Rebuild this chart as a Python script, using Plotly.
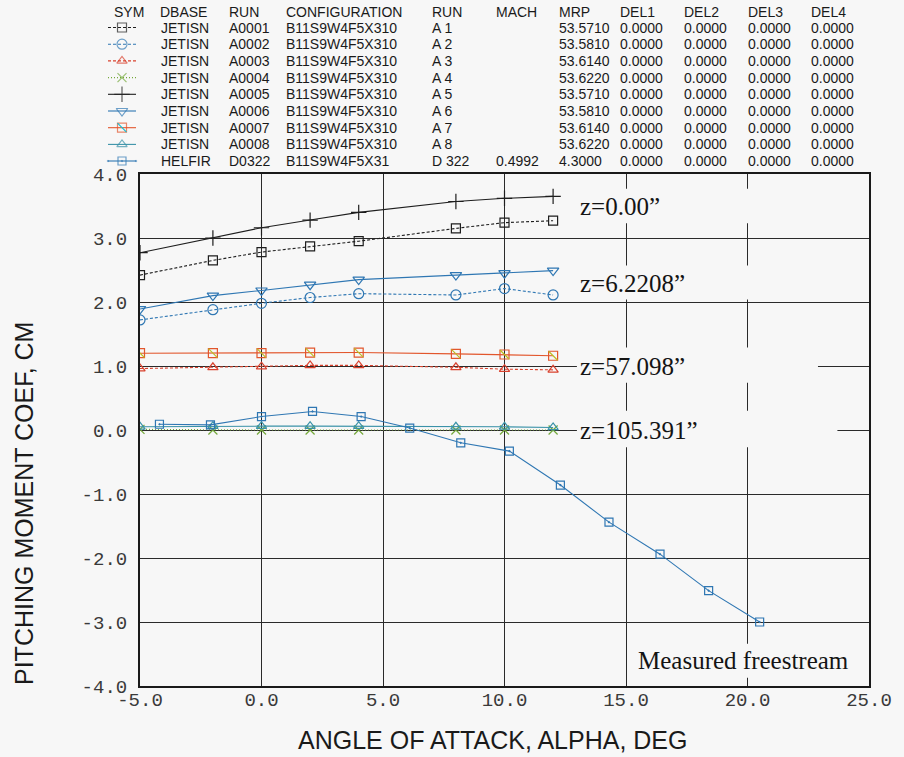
import plotly.graph_objects as go

# ---------------- data ----------------
alpha_jet = [-5, -2, 0, 2, 4, 8, 10, 12]
cm_a0001 = [2.42, 2.65, 2.78, 2.87, 2.95, 3.15, 3.24, 3.27]
cm_a0002 = [1.72, 1.88, 1.98, 2.07, 2.13, 2.11, 2.21, 2.11]
cm_a0003 = [0.96, 0.98, 0.99, 1.01, 1.01, 0.98, 0.95, 0.94]
cm_a0004 = [0.01, 0.00, 0.00, 0.00, 0.00, 0.00, 0.00, 0.00]
cm_a0005 = [2.77, 3.00, 3.16, 3.28, 3.40, 3.57, 3.62, 3.65]
cm_a0006 = [1.89, 2.10, 2.18, 2.27, 2.35, 2.42, 2.45, 2.49]
cm_a0007 = [1.20, 1.20, 1.20, 1.21, 1.21, 1.19, 1.18, 1.16]
cm_a0008 = [0.05, 0.06, 0.06, 0.06, 0.06, 0.05, 0.05, 0.04]

alpha_helfir = [-4.2, -2.1, 0.0, 2.1, 4.1, 6.1, 8.2, 10.2, 12.3, 14.3, 16.4, 18.4, 20.5]
cm_helfir = [0.09, 0.08, 0.21, 0.29, 0.21, 0.03, -0.20, -0.33, -0.86, -1.44, -1.94, -2.51, -3.00]

x_tick_vals = [-5, 0, 5, 10, 15, 20, 25]
x_tick_labels = ["-5.0", "0.0", "5.0", "10.0", "15.0", "20.0", "25.0"]
y_tick_vals = [-4, -3, -2, -1, 0, 1, 2, 3, 4]
y_tick_labels = ["-4.0", "-3.0", "-2.0", "-1.0", "0.0", "1.0", "2.0", "3.0", "4.0"]

table_header = ["SYM", "DBASE", "RUN", "CONFIGURATION", "RUN", "MACH", "MRP", "DEL1", "DEL2", "DEL3", "DEL4"]
col_dbase = ["JETISN"] * 8 + ["HELFIR"]
col_run = ["A0001", "A0002", "A0003", "A0004", "A0005", "A0006", "A0007", "A0008", "D0322"]
col_config = ["B11S9W4F5X310"] * 8 + ["B11S9W4F5X31"]
col_run2 = ["A 1", "A 2", "A 3", "A 4", "A 5", "A 6", "A 7", "A 8", "D 322"]
col_mach = [""] * 8 + ["0.4992"]
col_mrp = ["53.5710", "53.5810", "53.6140", "53.6220", "53.5710", "53.5810", "53.6140", "53.6220", "4.3000"]
col_del1 = ["0.0000"] * 9
col_del2 = ["0.0000"] * 9
col_del3 = ["0.0000"] * 9
col_del4 = ["0.0000"] * 9

z_labels = ["z=0.00\u201d", "z=6.2208\u201d", "z=57.098\u201d", "z=105.391\u201d"]
z_label_y = [3.49, 2.29, 1.00, 0.00]

# ---------------- layout constants ----------------
W, H = 904, 757
PL, PR, PT, PB = 140, 869, 174, 686
BG = "#f7f7f7"
BLACK = "#1e1e1e"
BLUE = "#2f77b3"
RED = "#d9432f"
ORANGE = "#e8a03a"
GREEN = "#74a83a"
TEAL = "#3a92a8"

series = [
    dict(y=cm_a0001, color=BLACK, dash="3px,2px", symbol="square-open", size=9),
    dict(y=cm_a0002, color=BLUE, dash="3px,2px", symbol="circle-open", size=10),
    dict(y=cm_a0003, color=RED, dash="3px,2px", symbol="triangle-up-open", size=9),
    dict(y=cm_a0004, color=GREEN, dash="1px,2px", symbol="x-thin-open", size=9),
    dict(y=cm_a0005, color=BLACK, dash="solid", symbol="cross-thin-open", size=11),
    dict(y=cm_a0006, color=BLUE, dash="solid", symbol="triangle-down-open", size=10),
    dict(y=cm_a0007, color="#e2562c", dash="solid", symbol="square-open", size=9, mcolor=ORANGE),
    dict(y=cm_a0008, color=TEAL, dash="solid", symbol="triangle-up-open", size=9),
]

fig = go.Figure()

for s in series:
    fig.add_trace(go.Scatter(
        x=alpha_jet, y=s["y"], mode="lines+markers",
        line=dict(color=s["color"], width=1.1, dash=s["dash"]),
        marker=dict(symbol=s["symbol"], size=s["size"],
                    line=dict(color=s.get("mcolor", s["color"]), width=1.2)),
        showlegend=False, hoverinfo="skip",
    ))
# diagonal slash inside A0007 squares
fig.add_trace(go.Scatter(
    x=alpha_jet, y=cm_a0007, mode="markers",
    marker=dict(symbol="line-nw-open", size=9, line=dict(color=RED, width=1.2)),
    showlegend=False, hoverinfo="skip",
))
fig.add_trace(go.Scatter(
    x=alpha_helfir, y=cm_helfir, mode="lines+markers",
    line=dict(color=BLUE, width=1.1),
    marker=dict(symbol="square-open-dot", size=8, line=dict(color=BLUE, width=1.2)),
    showlegend=False, hoverinfo="skip",
))

# ---------------- legend table (pixel overlay axes) ----------------
row_y = [27.5 + 16.7 * i for i in range(8)] + [161]
header_y = 12
sym_x0, sym_xm, sym_x1 = 108, 122, 136
helfir_style = dict(color=BLUE, dash="solid", symbol="square-open-dot", size=8)
for i, s in enumerate(series + [helfir_style]):
    fig.add_trace(go.Scatter(
        x=[sym_x0, sym_xm, sym_x1], y=[row_y[i]] * 3, xaxis="x2", yaxis="y2",
        mode="lines+markers",
        line=dict(color=s["color"], width=1.1, dash=s["dash"]),
        marker=dict(symbol=s["symbol"], size=[0, s["size"], 0],
                    line=dict(color=s.get("mcolor", s["color"]), width=1.2)),
        showlegend=False, hoverinfo="skip",
    ))
fig.add_trace(go.Scatter(
    x=[sym_xm], y=[row_y[6]], xaxis="x2", yaxis="y2", mode="markers",
    marker=dict(symbol="line-nw-open", size=9, line=dict(color=RED, width=1.2)),
    showlegend=False, hoverinfo="skip",
))

annotations = []
TFONT = dict(family="Liberation Sans, Arial, sans-serif", size=14, color="#1a1a1a")
header_x = [113, 159, 228, 285, 431, 495, 558, 619, 683, 747, 810]
for hx, ht in zip(header_x, table_header):
    annotations.append(dict(x=hx, y=header_y, xref="x2", yref="y2", text=ht,
                            showarrow=False, xanchor="left", yanchor="middle",
                            font=TFONT, borderpad=0))
columns = [col_dbase, col_run, col_config, col_run2, col_mach, col_mrp,
           col_del1, col_del2, col_del3, col_del4]
col_x = [160, 228, 285, 431, 495, 558, 619, 683, 747, 810]
for cx, col in zip(col_x, columns):
    for i, txt in enumerate(col):
        if not txt:
            continue
        annotations.append(dict(x=cx, y=row_y[i], xref="x2", yref="y2", text=txt,
                                showarrow=False, xanchor="left", yanchor="middle",
                                font=TFONT, borderpad=0))

# axis titles
annotations.append(dict(x=24, y=504, xref="x2", yref="y2", text="PITCHING MOMENT COEF, CM",
                        textangle=-90, showarrow=False, xanchor="center", yanchor="middle",
                        font=dict(family="Liberation Sans, Arial, sans-serif", size=25, color="#1a1a1a")))
annotations.append(dict(x=492, y=740, xref="x2", yref="y2", text="ANGLE OF ATTACK, ALPHA, DEG",
                        showarrow=False, xanchor="center", yanchor="middle",
                        font=dict(family="Liberation Sans, Arial, sans-serif", size=25, color="#1a1a1a")))

# in-plot labels
LFONT = dict(family="Liberation Serif, Times New Roman, serif", size=25, color="#141414")
for txt, yy in zip(z_labels, z_label_y):
    annotations.append(dict(x=13.05, y=yy, xref="x", yref="y", text=txt, showarrow=False,
                            xanchor="left", yanchor="middle", font=LFONT, borderpad=0))
annotations.append(dict(x=15.45, y=-3.6, xref="x", yref="y", text="Measured freestream",
                        showarrow=False, xanchor="left", yanchor="middle", font=LFONT, borderpad=0))

# background patches behind the labels (break the grid lines as in the original)
patches = [
    (13.0, 22.0, 3.23, 3.77),
    (13.0, 22.0, 2.04, 2.57),
    (12.98, 22.9, 0.74, 1.29),
    (12.98, 23.7, -0.27, 0.30),
    (15.4, 24.3, -3.87, -3.34),
]
shapes = []
for x0, x1, y0, y1 in patches:
    shapes.append(dict(type="rect", xref="x", yref="y", x0=x0, x1=x1, y0=y0, y1=y1,
                       fillcolor=BG, line=dict(width=0), layer="between"))

TICKFONT = dict(family="Liberation Mono, Courier New, monospace", size=19, color="#3a3a3a")
fig.update_layout(
    width=W, height=H,
    margin=dict(l=0, r=0, t=0, b=0),
    paper_bgcolor=BG, plot_bgcolor="rgba(0,0,0,0)",
    template="none",
    showlegend=False,
    xaxis=dict(domain=[PL / W, PR / W], range=[-5, 25], tickvals=x_tick_vals,
               ticktext=x_tick_labels, tickfont=TICKFONT, ticks="", ticklabelstandoff=-5,
               showgrid=True, gridcolor="#2a2a2a", gridwidth=1.3, zeroline=False,
               showline=True, linecolor="#1a1a1a", linewidth=2, mirror=True,
               automargin=False, fixedrange=True),
    yaxis=dict(domain=[1 - PB / H, 1 - PT / H], range=[-4, 4], tickvals=y_tick_vals,
               ticktext=y_tick_labels, tickfont=TICKFONT, ticks="", ticklabelstandoff=7,
               showgrid=True, gridcolor="#2a2a2a", gridwidth=1.3, zeroline=False,
               showline=True, linecolor="#1a1a1a", linewidth=2, mirror=True,
               automargin=False, fixedrange=True),
    xaxis2=dict(domain=[0, 1], range=[0, W], visible=False, fixedrange=True, anchor="y2",
                showgrid=False, zeroline=False),
    yaxis2=dict(domain=[0, 1], range=[H, 0], visible=False, fixedrange=True, anchor="x2",
                showgrid=False, zeroline=False),
    annotations=annotations,
    shapes=shapes,
)

fig.write_html("out.html")
